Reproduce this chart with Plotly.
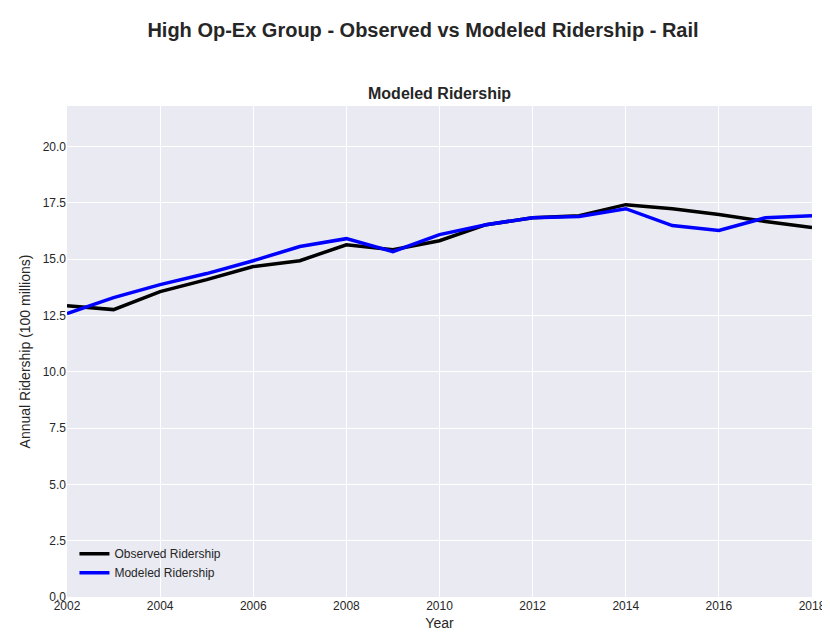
import plotly.graph_objects as go

years = list(range(2002, 2019))
observed = [12.93, 12.76, 13.56, 14.09, 14.67, 14.93, 15.64, 15.42, 15.82, 16.53,
            16.84, 16.93, 17.42, 17.24, 16.98, 16.67, 16.40]
modeled = [12.58, 13.29, 13.87, 14.36, 14.93, 15.56, 15.91, 15.33, 16.09, 16.53,
           16.84, 16.89, 17.24, 16.49, 16.27, 16.84, 16.93]

fig = go.Figure()
fig.add_trace(go.Scatter(x=years, y=observed, mode="lines", name="Observed Ridership",
                         line=dict(color="black", width=3.5)))
fig.add_trace(go.Scatter(x=years, y=modeled, mode="lines", name="Modeled Ridership",
                         line=dict(color="blue", width=3.5)))

font = "Liberation Sans, Arial, sans-serif"
fig.update_layout(
    width=830, height=633,
    paper_bgcolor="white", plot_bgcolor="#EAEAF2",
    margin=dict(l=59, r=14, t=98, b=44),
    font=dict(family=font, size=12, color="#262626"),
    title=dict(text="<b>High Op-Ex Group - Observed vs Modeled Ridership - Rail</b>",
               x=0.5, xanchor="center", y=0.965, yref="container", yanchor="middle",
               font=dict(size=20, color="#262626")),
    showlegend=True,
    legend=dict(x=0.01, y=0.02, xanchor="left", yanchor="bottom",
                bgcolor="rgba(0,0,0,0)", font=dict(size=12)),
    annotations=[
        dict(text="<b>Modeled Ridership</b>", x=0.5, y=1.0, xref="paper", yref="paper",
             showarrow=False, yanchor="bottom", yshift=2, font=dict(size=16, color="#262626")),
    ],
)
fig.update_xaxes(range=[2002, 2018], dtick=2, gridcolor="white", gridwidth=1.2,
                 zeroline=False, showline=False, ticks="",
                 title=dict(text="Year", font=dict(size=14), standoff=6))
fig.update_yaxes(range=[0, 21.8], dtick=2.5, tickformat=".1f", gridcolor="white",
                 gridwidth=1.2, zeroline=False, showline=False, ticks="",
                 title=dict(text="Annual Ridership (100 millions)", font=dict(size=14), standoff=8))

fig.write_html("out.html")
